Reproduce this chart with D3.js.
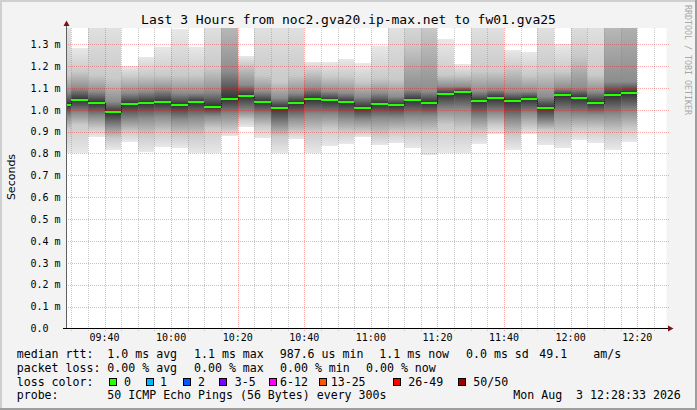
<!DOCTYPE html>
<html><head><meta charset="utf-8">
<script src="https://cdn.jsdelivr.net/npm/d3@7"></script>
<style>html,body{margin:0;padding:0;background:#f3f3f3;}svg{display:block;}text{white-space:pre;}</style>
</head><body><svg id="c" width="697" height="410" xmlns="http://www.w3.org/2000/svg"></svg>
<script>
// ---------- data ----------
const slotStart = ["09:25","09:30","09:35","09:40","09:45","09:50","09:55","10:00","10:05","10:10",
  "10:15","10:20","10:25","10:30","10:35","10:40","10:45","10:50","10:55","11:00",
  "11:05","11:10","11:15","11:20","11:25","11:30","11:35","11:40","11:45","11:50",
  "11:55","12:00","12:05","12:10","12:15"];
const median = [1.022,1.046,1.031,0.9876,1.027,1.031,1.035,1.021,1.035,1.014,
  1.050,1.064,1.035,1.009,1.031,1.050,1.044,1.035,1.009,1.027,
  1.021,1.045,1.031,1.072,1.081,1.040,1.055,1.040,1.050,1.009,
  1.067,1.055,1.031,1.067,1.076];
const pingMin = [0.80,0.80,0.877,0.817,0.854,0.808,0.831,0.826,0.80,0.80,
  0.880,0.921,0.870,0.80,0.867,0.80,0.834,0.845,0.875,0.838,
  0.848,0.826,0.793,0.80,0.80,0.845,0.890,0.817,0.889,0.838,
  0.826,0.863,0.849,0.817,0.854];
const pingP10 = [0.91,0.931,0.916,0.870,0.900,0.885,0.900,0.885,0.885,0.916,
  0.908,0.954,0.923,0.877,0.900,0.900,0.916,0.900,0.900,0.885,
  0.900,0.900,0.900,0.931,0.916,0.900,0.931,0.885,0.923,0.908,
  0.900,0.916,0.916,0.900,0.916];
const pingQ25 = [0.97,0.984,0.969,0.923,0.954,0.961,0.969,0.954,0.961,0.969,
  0.977,0.992,0.977,0.931,0.961,0.977,0.977,0.961,0.954,0.961,
  0.961,0.969,0.969,0.999,0.999,0.961,0.984,0.954,0.984,0.946,
  0.984,0.977,0.977,0.977,0.992];
const pingQ75 = [1.08,1.098,1.083,1.037,1.076,1.083,1.091,1.076,1.076,1.083,
  1.175,1.114,1.083,1.053,1.076,1.098,1.083,1.076,1.060,1.076,
  1.060,1.091,1.083,1.106,1.106,1.083,1.091,1.083,1.083,1.060,
  1.098,1.098,1.083,1.129,1.129];
const pingP90 = [1.16,1.175,1.159,1.144,1.152,1.159,1.159,1.159,1.159,1.190,
  1.46,1.205,1.159,1.129,1.159,1.175,1.152,1.152,1.129,1.144,
  1.140,1.30,1.38,1.159,1.159,1.175,1.175,1.190,1.159,1.175,
  1.175,1.250,1.159,1.478,1.558];
const pingMax = [1.45,1.283,1.45,1.45,1.200,1.242,1.288,1.370,1.288,1.45,
  1.80,1.245,1.45,1.45,1.45,1.220,1.220,1.232,1.212,1.291,
  1.45,1.50,1.45,1.322,1.209,1.45,1.45,1.273,1.265,1.45,
  1.300,1.45,1.45,1.80,1.90];
const yTicks = [0,0.1,0.2,0.3,0.4,0.5,0.6,0.7,0.8,0.9,1.0,1.1,1.2,1.3];
const yTickLabels = ["0.0","0.1 m","0.2 m","0.3 m","0.4 m","0.5 m","0.6 m","0.7 m","0.8 m","0.9 m","1.0 m","1.1 m","1.2 m","1.3 m"];
const xTickLabels = ["09:40","10:00","10:20","10:40","11:00","11:20","11:40","12:00","12:20"];
const lossLabels = ["0","1","2","3-5","6-12","13-25","26-49","50/50"];
const lossColors = ["#26ff00","#00b8ff","#0059ff","#7e00ff","#ff00ff","#ff5500","#ff0000","#a10000"];
const titleText = "Last 3 Hours from noc2.gva20.ip-max.net to fw01.gva25";
const rttLegend = ["1.0 ms avg","1.1 ms max","987.6 us min","1.1 ms now","0.0 ms sd","49.1","am/s"];
const lossLegend = ["0.00 % avg","0.00 % max","0.00 % min","0.00 % now"];
const probeText = "50 ICMP Echo Pings (56 Bytes) every 300s";
const stampText = "Mon Aug  3 12:28:33 2026";
const yTop = 1.3736;

// ---------- layout ----------
const day = "2026-08-03 ";
const parse = d3.timeParse("%Y-%m-%d %H:%M:%S");
const tStart = parse(day+"09:28:33"), tEnd = parse(day+"12:28:33");
const P = {l:66.5, r:666.5, t:28, b:328.5};
const x = d3.scaleTime().domain([tStart,tEnd]).range([66.4,665.7]);
const y = d3.scaleLinear().domain([0,yTop]).range([328.4,28]);
const mono = "'DejaVu Sans Mono', 'Liberation Mono', monospace";

const svg = d3.select("#c");
svg.append("rect").attr("width",697).attr("height",410).attr("fill","#f3f3f3");
// frame
svg.append("rect").attr("x",0).attr("y",0).attr("width",697).attr("height",2).attr("fill","#cfcfcf");
svg.append("rect").attr("x",0).attr("y",0).attr("width",2).attr("height",410).attr("fill","#cfcfcf");
svg.append("rect").attr("x",0).attr("y",408).attr("width",697).attr("height",2).attr("fill","#9e9e9e");
svg.append("rect").attr("x",695).attr("y",0).attr("width",2).attr("height",410).attr("fill","#9e9e9e");

// plot bg
svg.append("rect").attr("x",P.l).attr("y",P.t).attr("width",P.r-P.l).attr("height",P.b-P.t).attr("fill","#ffffff");

const defs = svg.append("defs");
defs.append("clipPath").attr("id","clip").append("rect")
  .attr("x",P.l+0.5).attr("y",P.t).attr("width",P.r-P.l-0.5).attr("height",P.b-P.t-0.5);

// dotted patterns (1 px on, 1 px off)
function dotPattern(id, w, h, color){
  const p = defs.append("pattern").attr("id",id).attr("patternUnits","userSpaceOnUse")
    .attr("x",0).attr("y",0).attr("width",w).attr("height",h);
  p.append("rect").attr("x",0).attr("y",0).attr("width",1).attr("height",1).attr("fill",color)
    .attr("shape-rendering","crispEdges");
}
dotPattern("vMinor",1,2,"rgba(128,128,128,0.42)");
dotPattern("vMajor",1,2,"rgba(255,0,0,0.33)");
dotPattern("hMajor",2,1,"rgba(255,0,0,0.33)");

const parseHM = d3.timeParse("%Y-%m-%d %H:%M");
const cols = slotStart.map((s,i)=>{
  const t0 = parseHM(day+s);
  const t1 = d3.timeMinute.offset(t0,5);
  return {t0, t1, i};
});

const gray = v => { const h = d3.format("02x")(Math.round(v)); return "#"+h+h+h; };
const smoke = svg.append("g").attr("clip-path","url(#clip)");
cols.forEach(c=>{
  const i=c.i;
  const vals = [pingMax[i],pingP90[i],pingQ75[i],median[i],pingQ25[i],pingP10[i],pingMin[i]];
  const shades = [232,202,141,50,141,202,232];
  const yA = y(pingMax[i]), yB = y(pingMin[i]);
  const g = defs.append("linearGradient").attr("id","sg"+i)
    .attr("gradientUnits","userSpaceOnUse").attr("x1",0).attr("x2",0).attr("y1",yA).attr("y2",yB);
  vals.forEach((v,k)=>{
    g.append("stop").attr("offset",(y(v)-yA)/(yB-yA)).attr("stop-color",gray(shades[k]));
  });
  const x0 = Math.max(x(c.t0),P.l), x1 = x(c.t1);
  smoke.append("rect").attr("x",Math.round(x0)).attr("width",Math.round(x1)-Math.round(x0))
    .attr("y",yA).attr("height",yB-yA).attr("fill","url(#sg"+i+")").attr("shape-rendering","crispEdges");
});

// median dark step line
const stepPts = cols.map(c=>[Math.max(x(c.t0),P.l), y(median[c.i])]);
stepPts.push([x(cols[cols.length-1].t1), y(median[median.length-1])]);
smoke.append("path").attr("d", d3.line().curve(d3.curveStepAfter)(stepPts.map(p=>[Math.round(p[0]),Math.round(p[1])+0.5])))
  .attr("fill","none").attr("stroke","#202020").attr("stroke-width",1).attr("shape-rendering","crispEdges");
// green median bands
cols.forEach(c=>{
  const x0 = Math.round(Math.max(x(c.t0),P.l)), x1 = Math.round(x(c.t1));
  smoke.append("rect").attr("x",x0).attr("width",x1-x0)
    .attr("y",Math.round(y(median[c.i]))-1).attr("height",2).attr("fill",lossColors[0]).attr("shape-rendering","crispEdges");
});

// grid (dotted, drawn as pattern-filled 1px rects)
const grid = svg.append("g").attr("shape-rendering","crispEdges");
const minor = d3.timeMinute.every(5).range(tStart,tEnd);
minor.forEach(t=>{
  const major = t.getMinutes()%20===0;
  const xi = Math.round(x(t));
  grid.append("rect").attr("x",xi).attr("y",P.t).attr("width",1).attr("height",P.b+2-P.t)
    .attr("fill", major ? "url(#vMajor)" : "url(#vMinor)");
});
yTicks.forEach(v=>{
  if (v===0) return;
  const yi = Math.round(y(v));
  grid.append("rect").attr("x",Math.round(P.l)-2).attr("y",yi).attr("width",P.r-P.l+4).attr("height",1)
    .attr("fill","url(#hMajor)");
});

// axes
svg.append("line").attr("x1",66.5).attr("x2",66.5).attr("y1",P.b).attr("y2",23).attr("stroke","#606060").attr("shape-rendering","crispEdges");
svg.append("line").attr("x1",63).attr("x2",669).attr("y1",328.5).attr("y2",328.5).attr("stroke","#000").attr("shape-rendering","crispEdges");
svg.append("path").attr("d","M63.5,26 L69.5,26 L66.5,20.5 Z").attr("fill","#7f1010");
svg.append("path").attr("d","M668,325.5 L668,331.5 L673.5,328.5 Z").attr("fill","#7f1010");

// y labels
yTicks.forEach((v,k)=>{
  svg.append("text").attr("x",30.5).attr("y",y(v)+3.8).attr("font-family",mono).attr("font-size","10px")
    .attr("fill","#000").text(yTickLabels[k]);
});
// x labels
const majors = d3.timeMinute.every(20).range(tStart,tEnd);
majors.forEach((t,k)=>{
  svg.append("text").attr("x",x(t)).attr("y",341).attr("text-anchor","middle").attr("font-family",mono)
    .attr("font-size","10px").attr("fill","#000").text(xTickLabels[k]);
});

// title
svg.append("text").attr("x",348.5).attr("y",24).attr("text-anchor","middle").attr("font-family",mono)
  .attr("font-size","13px").attr("fill","#000").text(titleText);
// y title
svg.append("text").attr("transform","translate(15,177) rotate(-90)").attr("text-anchor","middle")
  .attr("font-family","'DejaVu Sans', sans-serif").attr("font-size","11px").attr("fill","#000").text("Seconds");
// watermark
svg.append("text").attr("transform","translate(685,5) rotate(90)").attr("text-anchor","start")
  .attr("font-family",mono).attr("font-size","8.3px").attr("fill","#a8a8a8").text("RRDTOOL / TOBI OETIKER");

// legend
const lg = svg.append("g").attr("font-family",mono).attr("font-size","11.6px").attr("fill","#000");
const put = (xx,yy,s)=>lg.append("text").attr("x",xx).attr("y",yy).attr("xml:space","preserve").text(s);
const L1=357.7, L2=371.6, L3=385.5, L4=399.4;
put(16.7,L1,"median rtt:");
[107.3,194,279.7,379.3,466,539.3,593.3].forEach((xx,k)=>put(xx,L1,rttLegend[k]));
put(16.7,L2,"packet loss:");
[107.3,194,280,366].forEach((xx,k)=>put(xx,L2,lossLegend[k]));
put(16.7,L3,"loss color:");
const boxX=[109,145.7,182.7,219.3,269.3,319.3,393.3,458.3];
const labX=[124,160,198,234.7,280,330.7,408.3,473.3];
lossLabels.forEach((s,k)=>{
  lg.append("rect").attr("x",Math.round(boxX[k])+0.5).attr("y",378.5).attr("width",7).attr("height",7)
    .attr("fill",lossColors[k]).attr("stroke","#000").attr("stroke-width",1);
  put(labX[k],L3,s);
});
put(16.7,L4,"probe:");
put(107.3,L4,probeText);
put(513.3,L4,stampText);
</script></body></html>
